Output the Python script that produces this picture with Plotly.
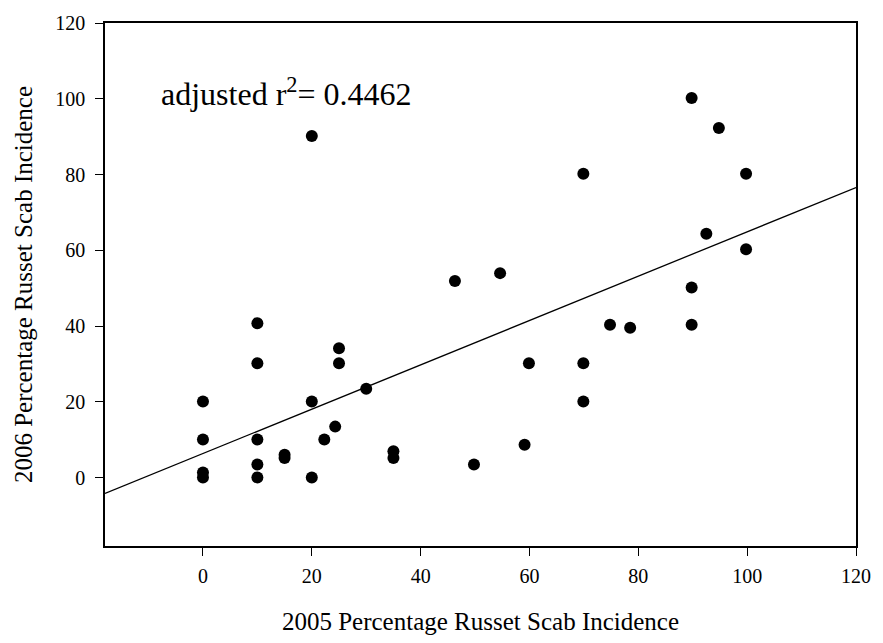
import plotly.graph_objects as go

x_2005 = [0, 0, 0, 0, 10, 10, 10, 10, 10, 15, 15, 20, 20, 20, 22.3, 24.3, 25, 25, 30,
          35, 35, 46.3, 49.8, 54.6, 59.1, 59.9, 69.9, 69.9, 69.9, 74.8, 78.5,
          89.8, 89.8, 89.8, 92.5, 94.8, 99.8, 99.8]
y_2006 = [20.1, 10.1, 1.4, 0.1, 40.8, 30.2, 10.1, 3.5, 0.1, 6.1, 5.2, 90.2, 20.1, 0.1, 10.1, 13.5, 34.2, 30.2, 23.5,
          7.0, 5.2, 51.9, 3.5, 54.0, 8.7, 30.2, 80.2, 30.2, 20.1, 40.4, 39.6,
          100.2, 50.2, 40.4, 64.4, 92.3, 80.2, 60.3]

fit_intercept = 6.4
fit_slope = 0.585
line_x = [-18, 120]
line_y = [fit_intercept + fit_slope * v for v in line_x]

tick_vals = [0, 20, 40, 60, 80, 100, 120]
x_title = "2005 Percentage Russet Scab Incidence"
y_title = "2006 Percentage Russet Scab Incidence"
annotation_text = "adjusted r<sup>2</sup>= 0.4462"

FONT = "Liberation Serif"

fig = go.Figure()
fig.add_trace(go.Scatter(x=line_x, y=line_y, mode="lines",
                         line=dict(color="black", width=1.3), hoverinfo="skip"))
fig.add_trace(go.Scatter(x=x_2005, y=y_2006, mode="markers",
                         marker=dict(color="black", size=12)))

axis_common = dict(
    showline=True, linecolor="black", linewidth=1.5, mirror=True,
    ticks="outside", ticklen=8, tickwidth=1.3, tickcolor="black",
    showgrid=False, zeroline=False, tickvals=tick_vals,
    tickfont=dict(family=FONT, size=20, color="black"),
)

fig.update_layout(
    width=883, height=643,
    margin=dict(l=105, r=17, t=18, b=92),
    paper_bgcolor="white", plot_bgcolor="white",
    showlegend=False,
    font=dict(family=FONT, color="black"),
    xaxis=dict(range=[-18, 120], title=dict(text=x_title, font=dict(family=FONT, size=25), standoff=27),
               ticklabelstandoff=3, **axis_common),
    yaxis=dict(range=[-18, 120], title=dict(text=y_title, font=dict(family=FONT, size=25), standoff=16),
               ticklabelstandoff=6, **axis_common),
    annotations=[dict(x=-8.0, y=101.8, xref="x", yref="y", text=annotation_text,
                      showarrow=False, xanchor="left", yanchor="middle",
                      font=dict(family=FONT, size=32, color="black"))],
)

fig.write_html("out.html")
